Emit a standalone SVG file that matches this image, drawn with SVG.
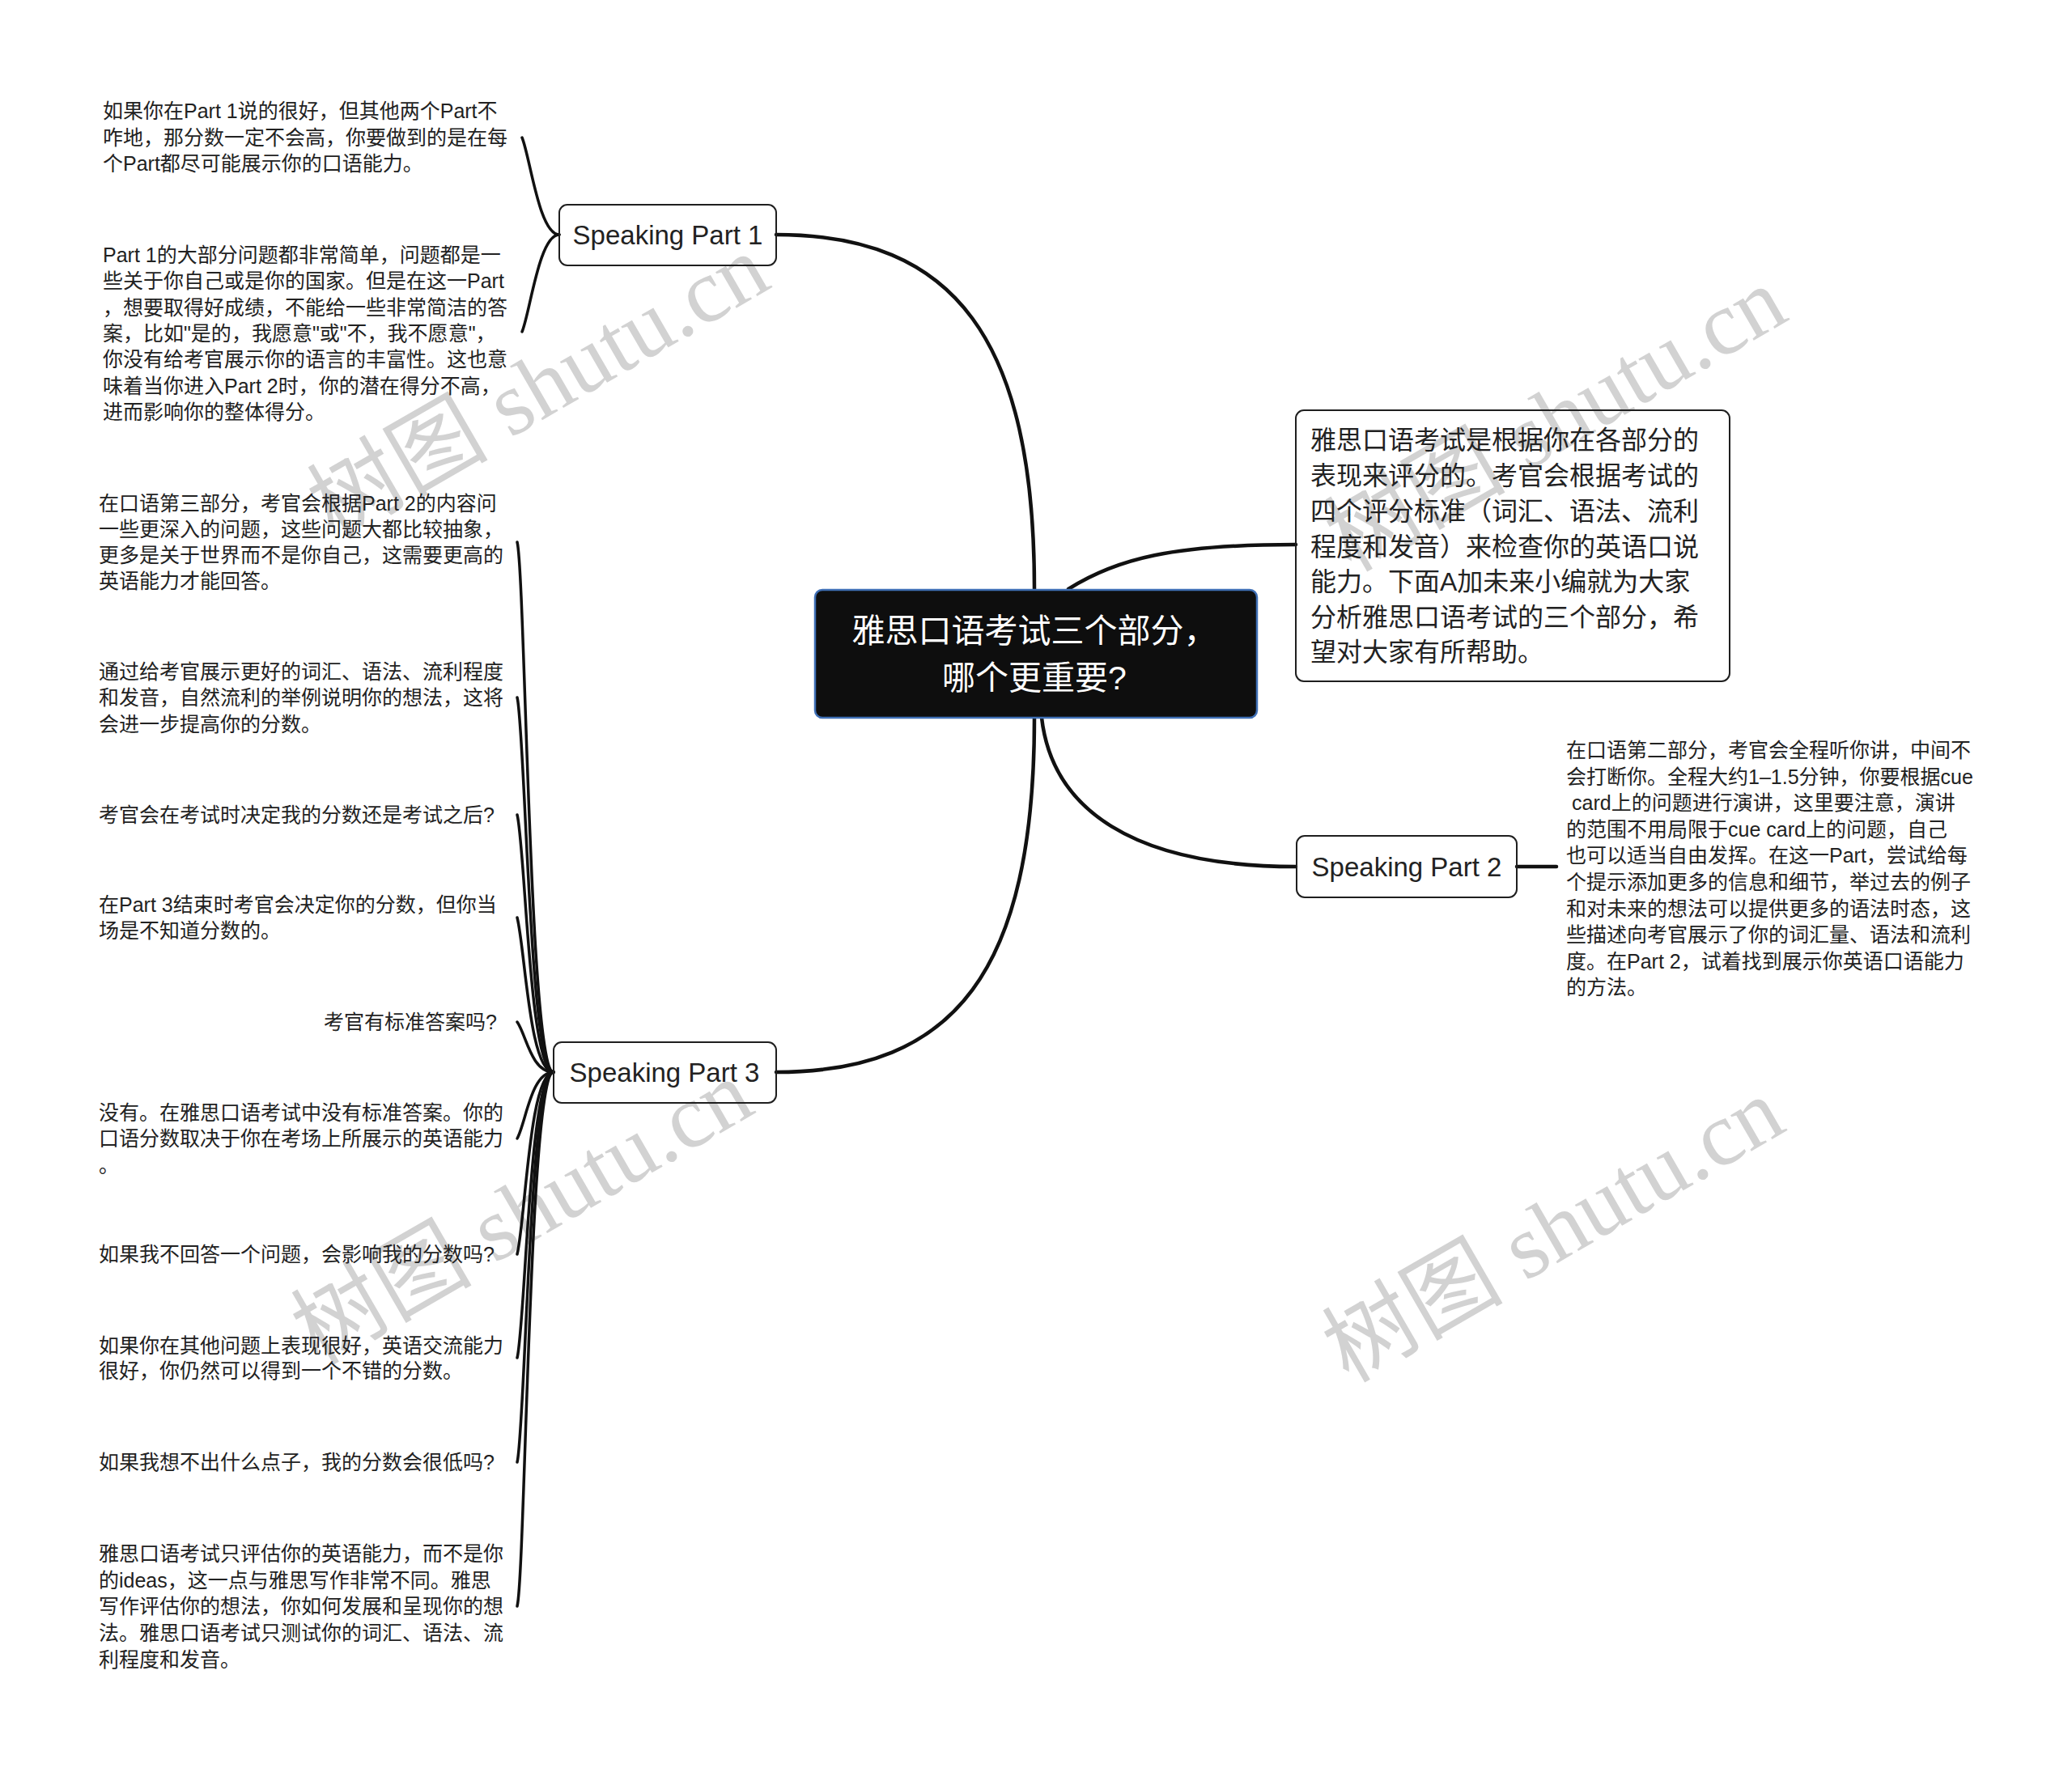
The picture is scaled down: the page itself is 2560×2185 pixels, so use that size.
<svg xmlns="http://www.w3.org/2000/svg" width="2560" height="2185" viewBox="0 0 2560 2185">
<style>
.bg{fill:#ffffff}
.wm{font-family:"Liberation Serif","Noto Sans CJK SC",serif;font-size:112px;fill:#d2d2d2}
.t{font-family:"Liberation Sans","Noto Sans CJK SC",sans-serif;fill:#222222}
.s25{font-size:25px}
.s32{font-size:32px}
.s33{font-size:33px}
.box{fill:none;stroke:#1f1f1f;stroke-width:2}
.root{fill:#0e0e0e;stroke:#3f6fb5;stroke-width:2.5}
.rt{font-family:"Liberation Sans","Noto Sans CJK SC",sans-serif;font-size:41px;fill:#ffffff}
.c{fill:none;stroke:#111111;stroke-linecap:round}
.c1{stroke-width:4.5}
.c2{stroke-width:3.5}
</style>
<rect class="bg" x="0" y="0" width="2560" height="2185"/>
<g id="watermarks">
<text class="wm" text-anchor="middle" transform="translate(684,511) rotate(-30)">树图 shutu.cn</text>
<text class="wm" text-anchor="middle" transform="translate(664,1531) rotate(-30)">树图 shutu.cn</text>
<text class="wm" text-anchor="middle" transform="translate(1941,551) rotate(-30)">树图 shutu.cn</text>
<text class="wm" text-anchor="middle" transform="translate(1938,1553) rotate(-30)">树图 shutu.cn</text>
</g>
<g id="connectors">
<path class="c c1" d="M1278 728 C1278 420 1180 290 959 290"/>
<path class="c c1" d="M1278 887 C1278 1200 1180 1325 959 1325"/>
<path class="c c1" d="M1320 728 C1380 690 1450 673 1601 673"/>
<path class="c c1" d="M1287 887 C1300 1000 1400 1071 1601 1071"/>
<path class="c c1" d="M1874 1071 L1923 1071"/>
<path class="c c2" d="M691 290 C666 290 655 194 645 170"/>
<path class="c c2" d="M691 290 C666 290 655 386 645 410"/>
<path class="c c2" d="M684 1325 C654 1325 649 710 639 670"/>
<path class="c c2" d="M684 1325 C654 1325 649 902 639 862"/>
<path class="c c2" d="M684 1325 C654 1325 649 1047 639 1007"/>
<path class="c c2" d="M684 1325 C654 1325 649 1174 639 1134"/>
<path class="c c2" d="M684 1325 C656 1325 650 1278 639 1263"/>
<path class="c c2" d="M684 1325 C656 1325 650 1387 639 1407"/>
<path class="c c2" d="M684 1325 C654 1325 649 1510 639 1550"/>
<path class="c c2" d="M684 1325 C654 1325 649 1638 639 1678"/>
<path class="c c2" d="M684 1325 C654 1325 649 1767 639 1807"/>
<path class="c c2" d="M684 1325 C654 1325 649 1945 639 1985"/>
</g>
<g id="root">
<rect class="root" x="1007" y="729" width="546" height="158" rx="9"/>
<text class="rt" text-anchor="middle"><tspan x="1278" y="794">雅思口语考试三个部分，</tspan><tspan x="1278" y="852">哪个更重要?</tspan></text>
</g>
<g id="part1">
<rect class="box" x="691" y="253" width="268" height="75" rx="10"/>
<text class="t s33" x="825" y="302" text-anchor="middle">Speaking Part 1</text>
</g>
<g id="part2">
<rect class="box" x="1602" y="1033" width="272" height="76" rx="10"/>
<text class="t s33" x="1738" y="1083" text-anchor="middle">Speaking Part 2</text>
</g>
<g id="part3">
<rect class="box" x="684" y="1288" width="275" height="75" rx="10"/>
<text class="t s33" x="821" y="1337" text-anchor="middle">Speaking Part 3</text>
</g>
<g id="intro">
<rect class="box" x="1601" y="507" width="536" height="335" rx="10"/>
<text class="t s32"><tspan x="1619" y="555">雅思口语考试是根据你在各部分的</tspan><tspan x="1619" y="599">表现来评分的。考官会根据考试的</tspan><tspan x="1619" y="643">四个评分标准（词汇、语法、流利</tspan><tspan x="1619" y="687">程度和发音）来检查你的英语口说</tspan><tspan x="1619" y="730">能力。下面A加未来小编就为大家</tspan><tspan x="1619" y="774">分析雅思口语考试的三个部分，希</tspan><tspan x="1619" y="817">望对大家有所帮助。</tspan></text>
</g>
<g id="p2-text">
<text class="t s25"><tspan x="1935" y="936">在口语第二部分，考官会全程听你讲，中间不</tspan><tspan x="1935" y="969">会打断你。全程大约1–1.5分钟，你要根据cue</tspan><tspan x="1942" y="1001">card上的问题进行演讲，这里要注意，演讲</tspan><tspan x="1935" y="1034">的范围不用局限于cue card上的问题，自己</tspan><tspan x="1935" y="1066">也可以适当自由发挥。在这一Part，尝试给每</tspan><tspan x="1935" y="1099">个提示添加更多的信息和细节，举过去的例子</tspan><tspan x="1935" y="1132">和对未来的想法可以提供更多的语法时态，这</tspan><tspan x="1935" y="1164">些描述向考官展示了你的词汇量、语法和流利</tspan><tspan x="1935" y="1197">度。在Part 2，试着找到展示你英语口语能力</tspan><tspan x="1935" y="1229">的方法。</tspan></text>
</g>
<g id="p1-a">
<text class="t s25"><tspan x="127" y="146">如果你在Part 1说的很好，但其他两个Part不</tspan><tspan x="127" y="179">咋地，那分数一定不会高，你要做到的是在每</tspan><tspan x="127" y="211">个Part都尽可能展示你的口语能力。</tspan></text>
</g>
<g id="p1-b">
<text class="t s25"><tspan x="127" y="324">Part 1的大部分问题都非常简单，问题都是一</tspan><tspan x="127" y="356">些关于你自己或是你的国家。但是在这一Part</tspan><tspan x="127" y="389">，想要取得好成绩，不能给一些非常简洁的答</tspan><tspan x="127" y="421">案，比如"是的，我愿意"或"不，我不愿意"，</tspan><tspan x="127" y="453">你没有给考官展示你的语言的丰富性。这也意</tspan><tspan x="127" y="486">味着当你进入Part 2时，你的潜在得分不高，</tspan><tspan x="127" y="518">进而影响你的整体得分。</tspan></text>
</g>
<g id="p3-a">
<text class="t s25"><tspan x="122" y="631">在口语第三部分，考官会根据Part 2的内容问</tspan><tspan x="122" y="663">一些更深入的问题，这些问题大都比较抽象，</tspan><tspan x="122" y="695">更多是关于世界而不是你自己，这需要更高的</tspan><tspan x="122" y="727">英语能力才能回答。</tspan></text>
</g>
<g id="p3-b">
<text class="t s25"><tspan x="122" y="839">通过给考官展示更好的词汇、语法、流利程度</tspan><tspan x="122" y="871">和发音，自然流利的举例说明你的想法，这将</tspan><tspan x="122" y="904">会进一步提高你的分数。</tspan></text>
</g>
<g id="p3-c">
<text class="t s25" x="122" y="1016">考官会在考试时决定我的分数还是考试之后?</text>
</g>
<g id="p3-d">
<text class="t s25"><tspan x="122" y="1127">在Part 3结束时考官会决定你的分数，但你当</tspan><tspan x="122" y="1159">场是不知道分数的。</tspan></text>
</g>
<g id="p3-e">
<text class="t s25" x="614" y="1272" text-anchor="end">考官有标准答案吗?</text>
</g>
<g id="p3-f">
<text class="t s25"><tspan x="122" y="1384">没有。在雅思口语考试中没有标准答案。你的</tspan><tspan x="122" y="1416">口语分数取决于你在考场上所展示的英语能力</tspan><tspan x="122" y="1449">。</tspan></text>
</g>
<g id="p3-g">
<text class="t s25" x="122" y="1559">如果我不回答一个问题，会影响我的分数吗?</text>
</g>
<g id="p3-h">
<text class="t s25"><tspan x="122" y="1672">如果你在其他问题上表现很好，英语交流能力</tspan><tspan x="122" y="1703">很好，你仍然可以得到一个不错的分数。</tspan></text>
</g>
<g id="p3-i">
<text class="t s25" x="122" y="1816">如果我想不出什么点子，我的分数会很低吗?</text>
</g>
<g id="p3-j">
<text class="t s25"><tspan x="122" y="1929">雅思口语考试只评估你的英语能力，而不是你</tspan><tspan x="122" y="1962">的ideas，这一点与雅思写作非常不同。雅思</tspan><tspan x="122" y="1994">写作评估你的想法，你如何发展和呈现你的想</tspan><tspan x="122" y="2027">法。雅思口语考试只测试你的词汇、语法、流</tspan><tspan x="122" y="2060">利程度和发音。</tspan></text>
</g>
</svg>
